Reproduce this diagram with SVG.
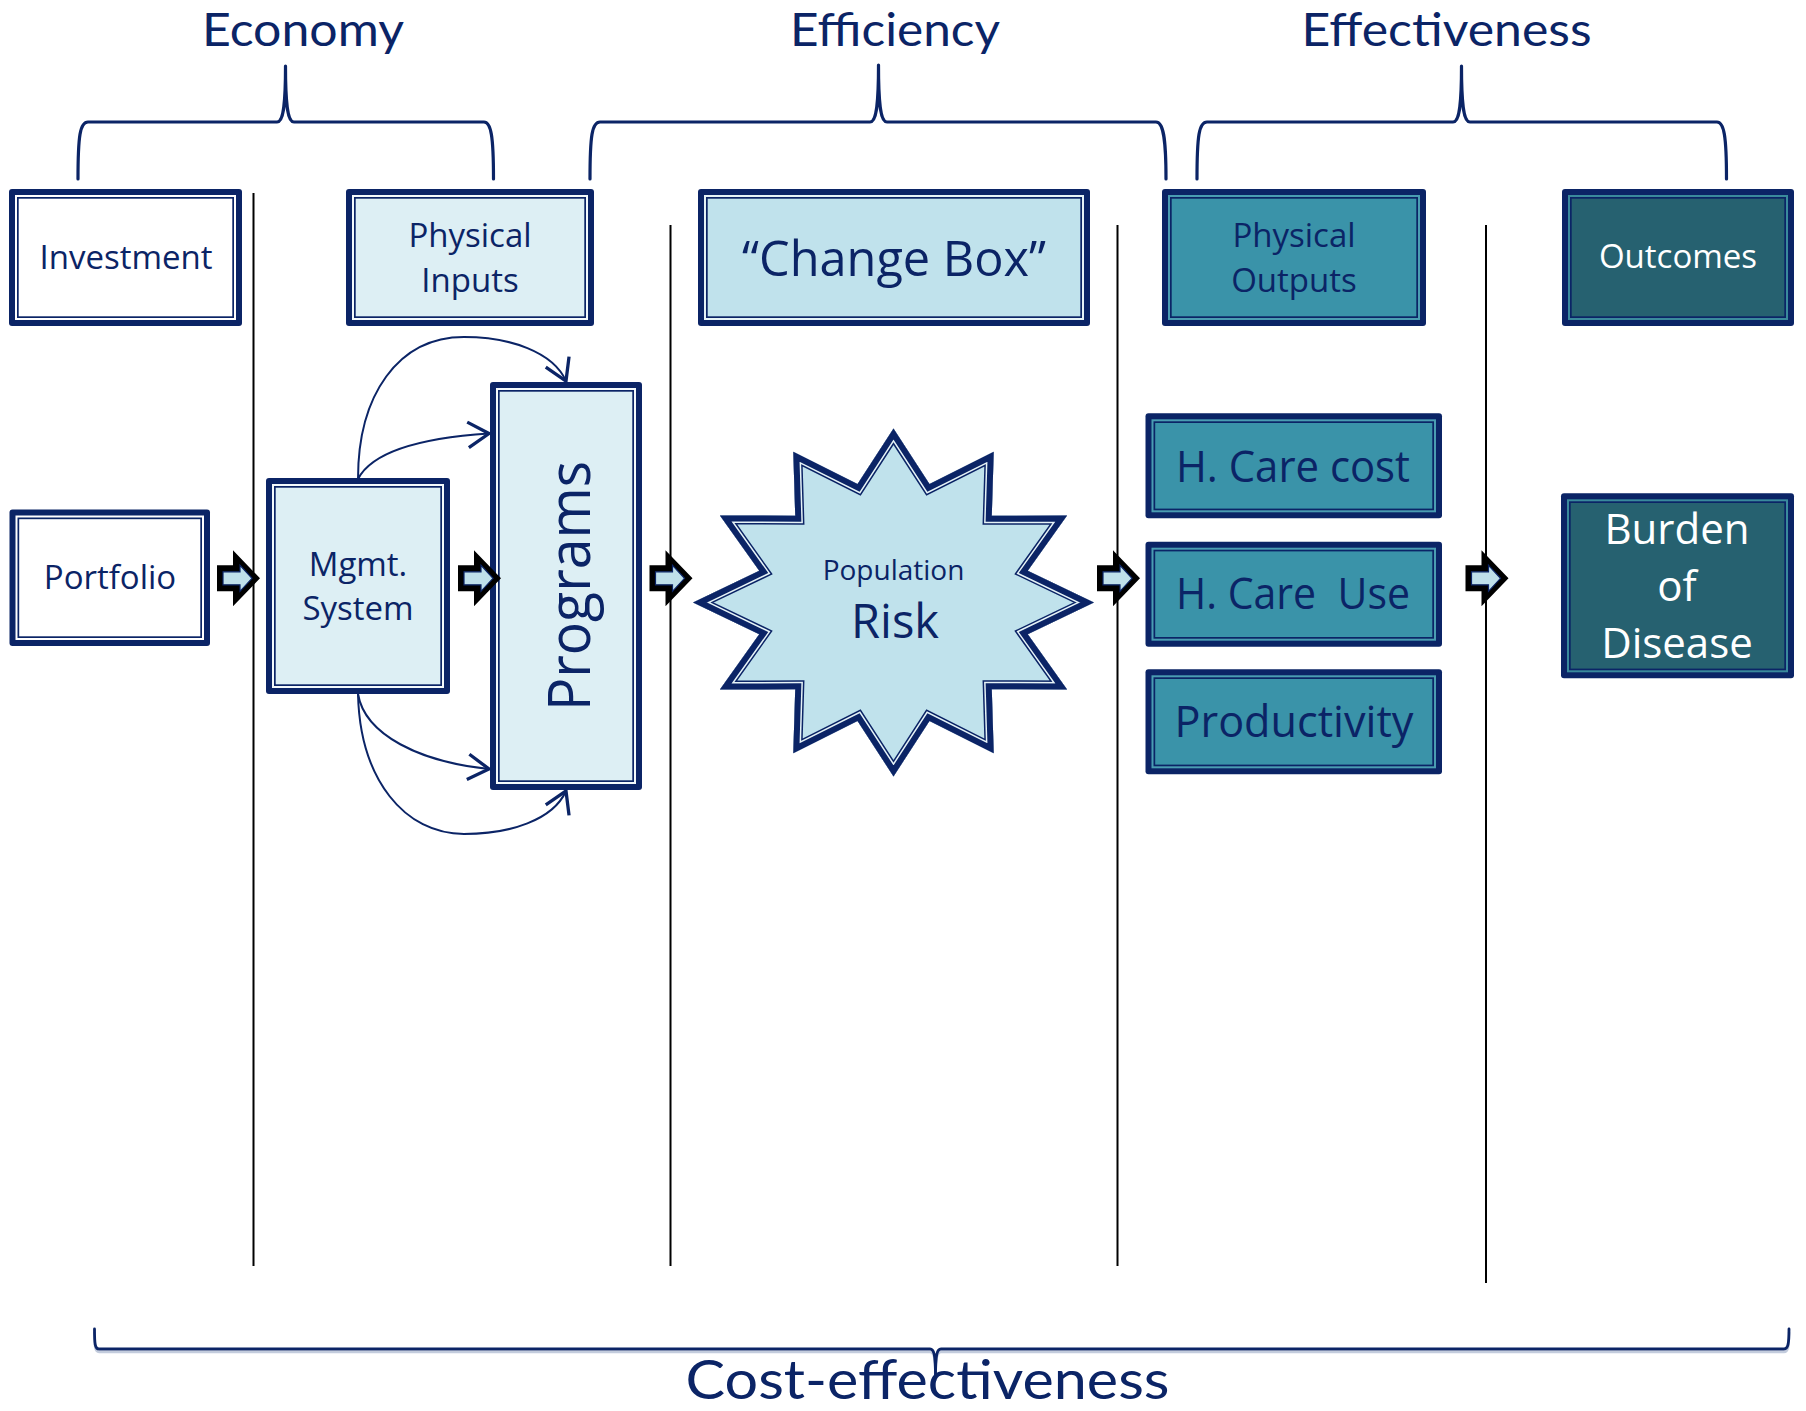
<svg xmlns="http://www.w3.org/2000/svg" xmlns:xlink="http://www.w3.org/1999/xlink" width="1806" height="1411" viewBox="0 0 1806 1411">
<style>
.nv{fill:#0B2466}
.t{font-family:"Open Sans","Noto Sans","Liberation Sans",sans-serif;fill:#0B2466;text-anchor:middle}
.h{font-family:Lato,"Open Sans","Liberation Sans",sans-serif;font-size:46px}
.tw{fill:#ffffff}
.inl{stroke:#0B2466;stroke-width:1.7}
.brace{fill:none;stroke:#0B2466;stroke-width:3.2;stroke-linecap:round;stroke-linejoin:round}
.vl{stroke:#000;stroke-width:2}
.con{fill:none;stroke:#0B2466;stroke-width:2;marker-end:url(#vhead)}
</style>
<defs>
<marker id="vhead" markerUnits="userSpaceOnUse" markerWidth="30" markerHeight="30" refX="0" refY="0" viewBox="-16 -10 18 20" orient="auto" overflow="visible">
<path d="M-14,-8.5 L0,0 L-14,8.5" fill="none" stroke="#0B2466" stroke-width="2.2" stroke-linejoin="miter"/>
</marker>
<g id="fat">
<path d="M-43,-13 L-27,-13 L-27,-28 L0,0 L-27,28 L-27,13 L-43,13 Z" fill="#000"/>
<path d="M-37,-6.5 L-20,-6.5 L-20,-13 L-8,0 L-20,13 L-20,6.5 L-37,6.5 Z" fill="#BFE0EA" stroke="#0B2466" stroke-width="1.2"/>
</g>
<polygon id="starpoly" points="893.5,428.5 929.5,484 993.75,451.8 991.8,515.7 1067.1,515.5 1027.8,570.75 1094,602.5 1027.8,634.25 1067.1,689.5 991.8,689.3 993.75,753.2 929.5,721 893.5,776.5 857.5,721 793.25,753.2 795.2,689.3 719.9,689.5 759.2,634.25 693,602.5 759.2,570.75 719.9,515.5 795.2,515.7 793.25,451.8 857.5,484"/>
<clipPath id="starclip"><use xlink:href="#starpoly"/></clipPath>
</defs>

<!-- vertical separators -->
<g id="separators">
<line class="vl" x1="253.5" y1="193" x2="253.5" y2="1266"/>
<line class="vl" x1="670.5" y1="225" x2="670.5" y2="1266"/>
<line class="vl" x1="1117.5" y1="225" x2="1117.5" y2="1266"/>
<line class="vl" x1="1486" y1="225" x2="1486" y2="1283"/>
</g>

<!-- braces and headings -->
<g id="economy">
<path class="brace" d="M78,179 C78,136 80,122 88,122 L277,122 C283,122 285.5,108 285.5,66 C285.5,108 288,122 294,122 L484,122 C491,122 493.5,136 493.5,179"/>
<text class="t h" x="303" y="46" textLength="202" lengthAdjust="spacingAndGlyphs">Economy</text>
</g>
<g id="efficiency">
<path class="brace" d="M590,179 C590,136 592,122 600,122 L870,122 C876,122 878.5,108 878.5,65 C878.5,108 881,122 887,122 L1156,122 C1163,122 1166,136 1166,179"/>
<text class="t h" x="895" y="46" textLength="210" lengthAdjust="spacingAndGlyphs">Efficiency</text>
</g>
<g id="effectiveness">
<path class="brace" d="M1197,179 C1197,136 1199,122 1207,122 L1453,122 C1459,122 1461.5,108 1461.5,66 C1461.5,108 1464,122 1470,122 L1717,122 C1724,122 1726.5,136 1726.5,179"/>
<text class="t h" x="1446.5" y="46" textLength="290" lengthAdjust="spacingAndGlyphs">Effectiveness</text>
</g>
<g id="cost-effectiveness">
<path d="M94.5,1332 C94.5,1347 95,1352 99,1352 L930,1352 C934,1352 935.5,1357 935.5,1381 C935.5,1357 937,1352 941,1352 L1784,1352 C1788,1352 1789,1347 1789,1332" fill="none" stroke="#C3CCDD" stroke-width="2.5"/>
<path d="M94.5,1329 C94.5,1344 95,1349 99,1349 L930,1349 C934,1349 935.5,1354 935.5,1378 C935.5,1354 937,1349 941,1349 L1784,1349 C1788,1349 1789,1344 1789,1329" fill="none" stroke="#0B2466" stroke-width="2.8" stroke-linecap="round"/>
<text class="t h" x="927.5" y="1399" style="font-size:54px" textLength="484" lengthAdjust="spacingAndGlyphs">Cost-effectiveness</text>
</g>

<!-- top row nodes -->
<g id="investment">
<rect class="nv" x="9" y="189" width="233" height="137" rx="3"/>
<rect x="15" y="195" width="221" height="125" fill="#fff"/>
<rect class="inl" x="17.85" y="197.85" width="215.3" height="119.3" fill="#fff"/>
<text class="t" x="126" y="269.3" font-size="33">Investment</text>
</g>
<g id="physical-inputs">
<rect class="nv" x="346" y="189" width="248" height="137" rx="3"/>
<rect x="352" y="195" width="236" height="125" fill="#F4FAFC"/>
<rect class="inl" x="354.85" y="197.85" width="230.3" height="119.3" fill="#DDEFF4"/>
<text class="t" x="470" y="247" font-size="33">Physical</text>
<text class="t" x="470" y="292" font-size="33">Inputs</text>
</g>
<g id="change-box">
<rect class="nv" x="698" y="189" width="392" height="137" rx="3"/>
<rect x="704" y="195" width="380" height="125" fill="#E6F3F7"/>
<rect class="inl" x="706.85" y="197.85" width="374.3" height="119.3" fill="#C0E2EC"/>
<text class="t" x="894" y="276" font-size="49" textLength="304" lengthAdjust="spacingAndGlyphs">“Change Box”</text>
</g>
<g id="physical-outputs">
<rect class="nv" x="1162" y="189" width="264" height="137" rx="3"/>
<rect x="1168" y="195" width="252" height="125" fill="#4A9DB2"/>
<rect class="inl" x="1170.85" y="197.85" width="246.3" height="119.3" fill="#3A93A9"/>
<text class="t" x="1294" y="247" font-size="33">Physical</text>
<text class="t" x="1294" y="292" font-size="33">Outputs</text>
</g>
<g id="outcomes">
<rect class="nv" x="1562" y="189" width="232" height="137" rx="3"/>
<rect x="1568" y="195" width="220" height="125" fill="#3A8A9C"/>
<rect class="inl" x="1570.85" y="197.85" width="214.3" height="119.3" fill="#266170"/>
<text class="t tw" x="1678" y="268.3" font-size="33">Outcomes</text>
</g>

<!-- middle row nodes -->
<g id="portfolio">
<rect class="nv" x="9.5" y="509.5" width="200.5" height="136.5" rx="3"/>
<rect x="15.5" y="515.5" width="188.5" height="124.5" fill="#fff"/>
<rect class="inl" x="18.35" y="518.35" width="182.8" height="118.8" fill="#fff"/>
<text class="t" x="110" y="589" font-size="33">Portfolio</text>
</g>
<g id="mgmt-system">
<rect class="nv" x="266" y="478" width="184" height="216" rx="3"/>
<rect x="272" y="484" width="172" height="204" fill="#F4FAFC"/>
<rect class="inl" x="274.85" y="486.85" width="166.3" height="198.3" fill="#DDEFF4"/>
<text class="t" x="358" y="575.5" font-size="33">Mgmt.</text>
<text class="t" x="358" y="620" font-size="33">System</text>
</g>
<g id="programs">
<rect class="nv" x="490" y="382" width="152" height="408" rx="3"/>
<rect x="496" y="388" width="140" height="396" fill="#F4FAFC"/>
<rect class="inl" x="498.85" y="390.85" width="134.3" height="390.3" fill="#DDEFF4"/>
<text class="t" x="590" y="586" font-size="58" textLength="250" lengthAdjust="spacingAndGlyphs" transform="rotate(-90 590 586)">Programs</text>
</g>
<g id="population-risk">
<use xlink:href="#starpoly" fill="#C0E2EC"/>
<use xlink:href="#starpoly" fill="none" stroke="#0B2466" stroke-width="18" stroke-linejoin="miter" stroke-miterlimit="10" clip-path="url(#starclip)"/>
<use xlink:href="#starpoly" fill="none" stroke="#E6F3F7" stroke-width="15" stroke-linejoin="miter" stroke-miterlimit="10" clip-path="url(#starclip)"/>
<use xlink:href="#starpoly" fill="none" stroke="#0B2466" stroke-width="12" stroke-linejoin="miter" stroke-miterlimit="10" clip-path="url(#starclip)"/>
<text class="t" x="893.5" y="580" font-size="28">Population</text>
<text class="t" x="895" y="638.3" font-size="47">Risk</text>
</g>
<g id="h-care-cost">
<rect class="nv" x="1145.5" y="413.3" width="296.5" height="105" rx="3"/>
<rect x="1151.5" y="419.3" width="284.5" height="93" fill="#4A9DB2"/>
<rect class="inl" x="1154.35" y="422.15" width="278.8" height="87.3" fill="#3A93A9"/>
<text class="t" x="1293" y="481.7" font-size="43" textLength="234" lengthAdjust="spacingAndGlyphs">H. Care cost</text>
</g>
<g id="h-care-use">
<rect class="nv" x="1145.5" y="541.7" width="296.5" height="105" rx="3"/>
<rect x="1151.5" y="547.7" width="284.5" height="93" fill="#4A9DB2"/>
<rect class="inl" x="1154.35" y="550.55" width="278.8" height="87.3" fill="#3A93A9"/>
<text class="t" x="1293" y="609.3" font-size="43" textLength="234" lengthAdjust="spacingAndGlyphs" xml:space="preserve">H. Care  Use</text>
</g>
<g id="productivity">
<rect class="nv" x="1145.5" y="669.3" width="296.5" height="105" rx="3"/>
<rect x="1151.5" y="675.3" width="284.5" height="93" fill="#4A9DB2"/>
<rect class="inl" x="1154.35" y="678.15" width="278.8" height="87.3" fill="#3A93A9"/>
<text class="t" x="1294" y="736.7" font-size="43" textLength="239" lengthAdjust="spacingAndGlyphs">Productivity</text>
</g>
<g id="burden-of-disease">
<rect class="nv" x="1561" y="493.3" width="233" height="185" rx="3"/>
<rect x="1567" y="499.3" width="221" height="173" fill="#3A8A9C"/>
<rect class="inl" x="1569.85" y="502.15" width="215.3" height="167.3" fill="#266170"/>
<text class="t tw" x="1677" y="544" font-size="42">Burden</text>
<text class="t tw" x="1677" y="601" font-size="42">of</text>
<text class="t tw" x="1677" y="658.3" font-size="42">Disease</text>
</g>

<!-- connectors -->
<g id="connectors">
<use xlink:href="#fat" x="260" y="578.3"/>
<use xlink:href="#fat" x="501" y="578.3"/>
<use xlink:href="#fat" x="692.5" y="578.3"/>
<use xlink:href="#fat" x="1140" y="578.3"/>
<use xlink:href="#fat" x="1508.5" y="578.3"/>
<path class="con" d="M358,479 C358,395 398,337 464,337 C510,337 553,352 566,381"/>
<path class="con" d="M358,479 C372,452 420,438 489,433.5"/>
<path class="con" d="M358,694 C365,735 420,762 489,769"/>
<path class="con" d="M358,694 C360,780 405,834 464,834 C510,834 553,820 566,791"/>
</g>
</svg>
